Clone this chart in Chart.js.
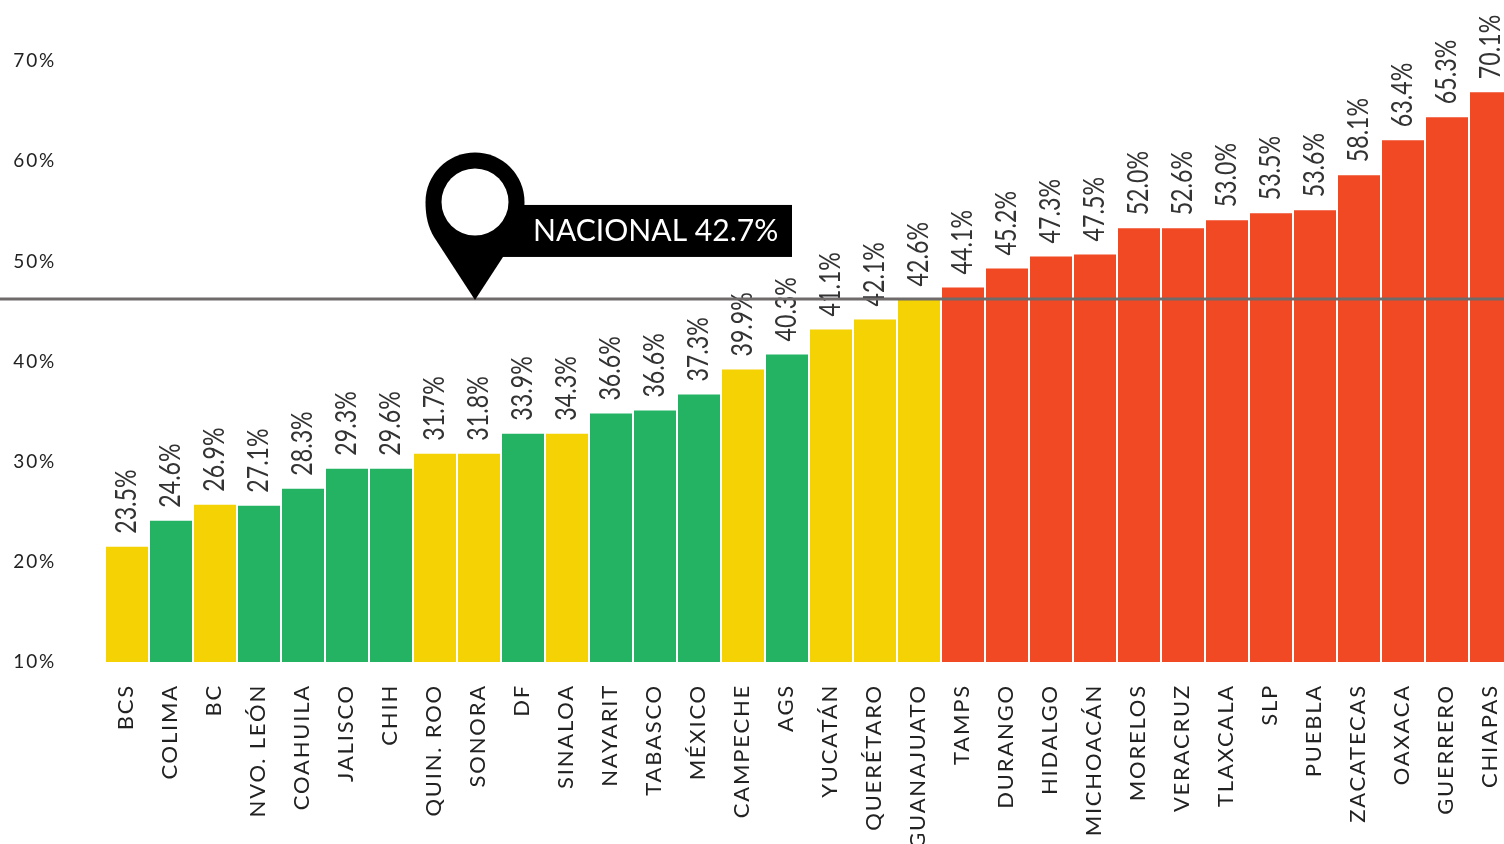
<!DOCTYPE html>
<html lang="es">
<head>
<meta charset="utf-8">
<style>
html,body{margin:0;padding:0;background:#fff;overflow:hidden;width:1504px;height:844px}
canvas{display:block}
</style>
<script src="https://cdn.jsdelivr.net/npm/chart.js@4"></script>
</head>
<body>
<canvas id="c" width="1513" height="844"></canvas>
<script>
const categories = ["BCS","COLIMA","BC","NVO. LEÓN","COAHUILA","JALISCO","CHIH","QUIN. ROO","SONORA","DF","SINALOA","NAYARIT","TABASCO","MÉXICO","CAMPECHE","AGS","YUCATÁN","QUERÉTARO","GUANAJUATO","TAMPS","DURANGO","HIDALGO","MICHOACÁN","MORELOS","VERACRUZ","TLAXCALA","SLP","PUEBLA","ZACATECAS","OAXACA","GUERRERO","CHIAPAS"];
const barHeights = [21.5,24.1,25.7,25.6,27.3,29.3,29.3,30.8,30.8,32.8,32.8,34.8,35.1,36.7,39.2,40.7,43.2,44.2,46.2,47.4,49.3,50.5,50.7,53.3,53.3,54.1,54.8,55.1,58.6,62.1,64.4,66.9];
const printedLabels = ["23.5%","24.6%","26.9%","27.1%","28.3%","29.3%","29.6%","31.7%","31.8%","33.9%","34.3%","36.6%","36.6%","37.3%","39.9%","40.3%","41.1%","42.1%","42.6%","44.1%","45.2%","47.3%","47.5%","52.0%","52.6%","53.0%","53.5%","53.6%","58.1%","63.4%","65.3%","70.1%"];
const tiers = ["y","g","y","g","g","g","g","y","y","g","y","g","g","g","y","g","y","y","y","r","r","r","r","r","r","r","r","r","r","r","r","r"];
const yTicks = [10,20,30,40,50,60,70];
const nationalLine = 46.25;
const nationalText = "NACIONAL 42.7%";

const tierColors = {y:"#F4D204",g:"#24B363",r:"#F04923"};
const FONT = "Lato, 'Open Sans', sans-serif";

const overlay = {
  id:"overlay",
  beforeDraw(chart){ chart.ctx.letterSpacing = "1.8px"; },
  afterDatasetsDraw(chart){
    const ctx = chart.ctx, y = chart.scales.y;
    ctx.save();
    ctx.letterSpacing = "0px";
    // value labels
    const meta = chart.getDatasetMeta(0);
    ctx.fillStyle = "#333";
    ctx.font = "29px " + FONT;
    ctx.textAlign = "left";
    ctx.textBaseline = "alphabetic";
    meta.data.forEach((bar,i)=>{
      ctx.save();
      ctx.translate(bar.x + 9, bar.y - 13);
      ctx.rotate(-Math.PI/2);
      ctx.scale(0.8,1);
      ctx.fillText(printedLabels[i],0,0);
      ctx.restore();
    });
    // national line
    const ly = y.getPixelForValue(nationalLine);
    ctx.strokeStyle = "#6F6B6B";
    ctx.lineWidth = 3;
    ctx.beginPath(); ctx.moveTo(0,ly); ctx.lineTo(1504,ly); ctx.stroke();
    // pin + callout
    const tx = 475, cy = ly - 97;
    ctx.fillStyle = "#000";
    ctx.fillRect(tx+25, ly-94, 292, 52);
    ctx.beginPath();
    ctx.arc(tx, cy, 49.5, Math.PI, Math.PI*2, false);
    ctx.bezierCurveTo(tx+49.5, cy+14, tx+47, cy+25, tx+41, cy+35);
    ctx.lineTo(tx, ly+1);
    ctx.lineTo(tx-41, cy+35);
    ctx.bezierCurveTo(tx-47, cy+25, tx-49.5, cy+14, tx-49.5, cy);
    ctx.closePath();
    ctx.fill();
    ctx.fillStyle = "#fff";
    ctx.beginPath(); ctx.arc(tx, cy, 33.5, 0, Math.PI*2); ctx.fill();
    ctx.font = "31px " + FONT;
    ctx.save();
    ctx.translate(533, ly-57.5);
    ctx.scale(0.97,1);
    ctx.fillText(nationalText,0,0);
    ctx.restore();
    ctx.restore();
  }
};

new Chart(document.getElementById("c"),{
  type:"bar",
  data:{labels:categories,datasets:[{
    data:barHeights,
    backgroundColor:tiers.map(t=>tierColors[t]),
    borderWidth:0,
    categoryPercentage:1,
    barPercentage:42/44
  }]},
  options:{
    responsive:false,
    animation:false,
    devicePixelRatio:1,
    layout:{padding:{top:1}},
    plugins:{legend:{display:false},tooltip:{enabled:false},title:{display:false}},
    scales:{
      x:{
        grid:{display:false,drawTicks:false},
        border:{display:false},
        afterFit(s){s.height=182;s.paddingLeft=0;s.paddingRight=0;},
        ticks:{autoSkip:false,minRotation:90,maxRotation:90,padding:22,labelOffset:-1,color:"#222",font:{family:FONT,size:22}}
      },
      y:{
        min:10,max:76,
        grid:{display:false,drawTicks:false},
        border:{display:false},
        afterBuildTicks(s){s.ticks=yTicks.map(v=>({value:v}));},
        afterFit(s){s.width=105;s.paddingTop=0;s.paddingBottom=0;},
        ticks:{padding:49,color:"#222",font:{family:FONT,size:19},callback:v=>v+"%"}
      }
    }
  },
  plugins:[overlay]
});
</script>
</body>
</html>
